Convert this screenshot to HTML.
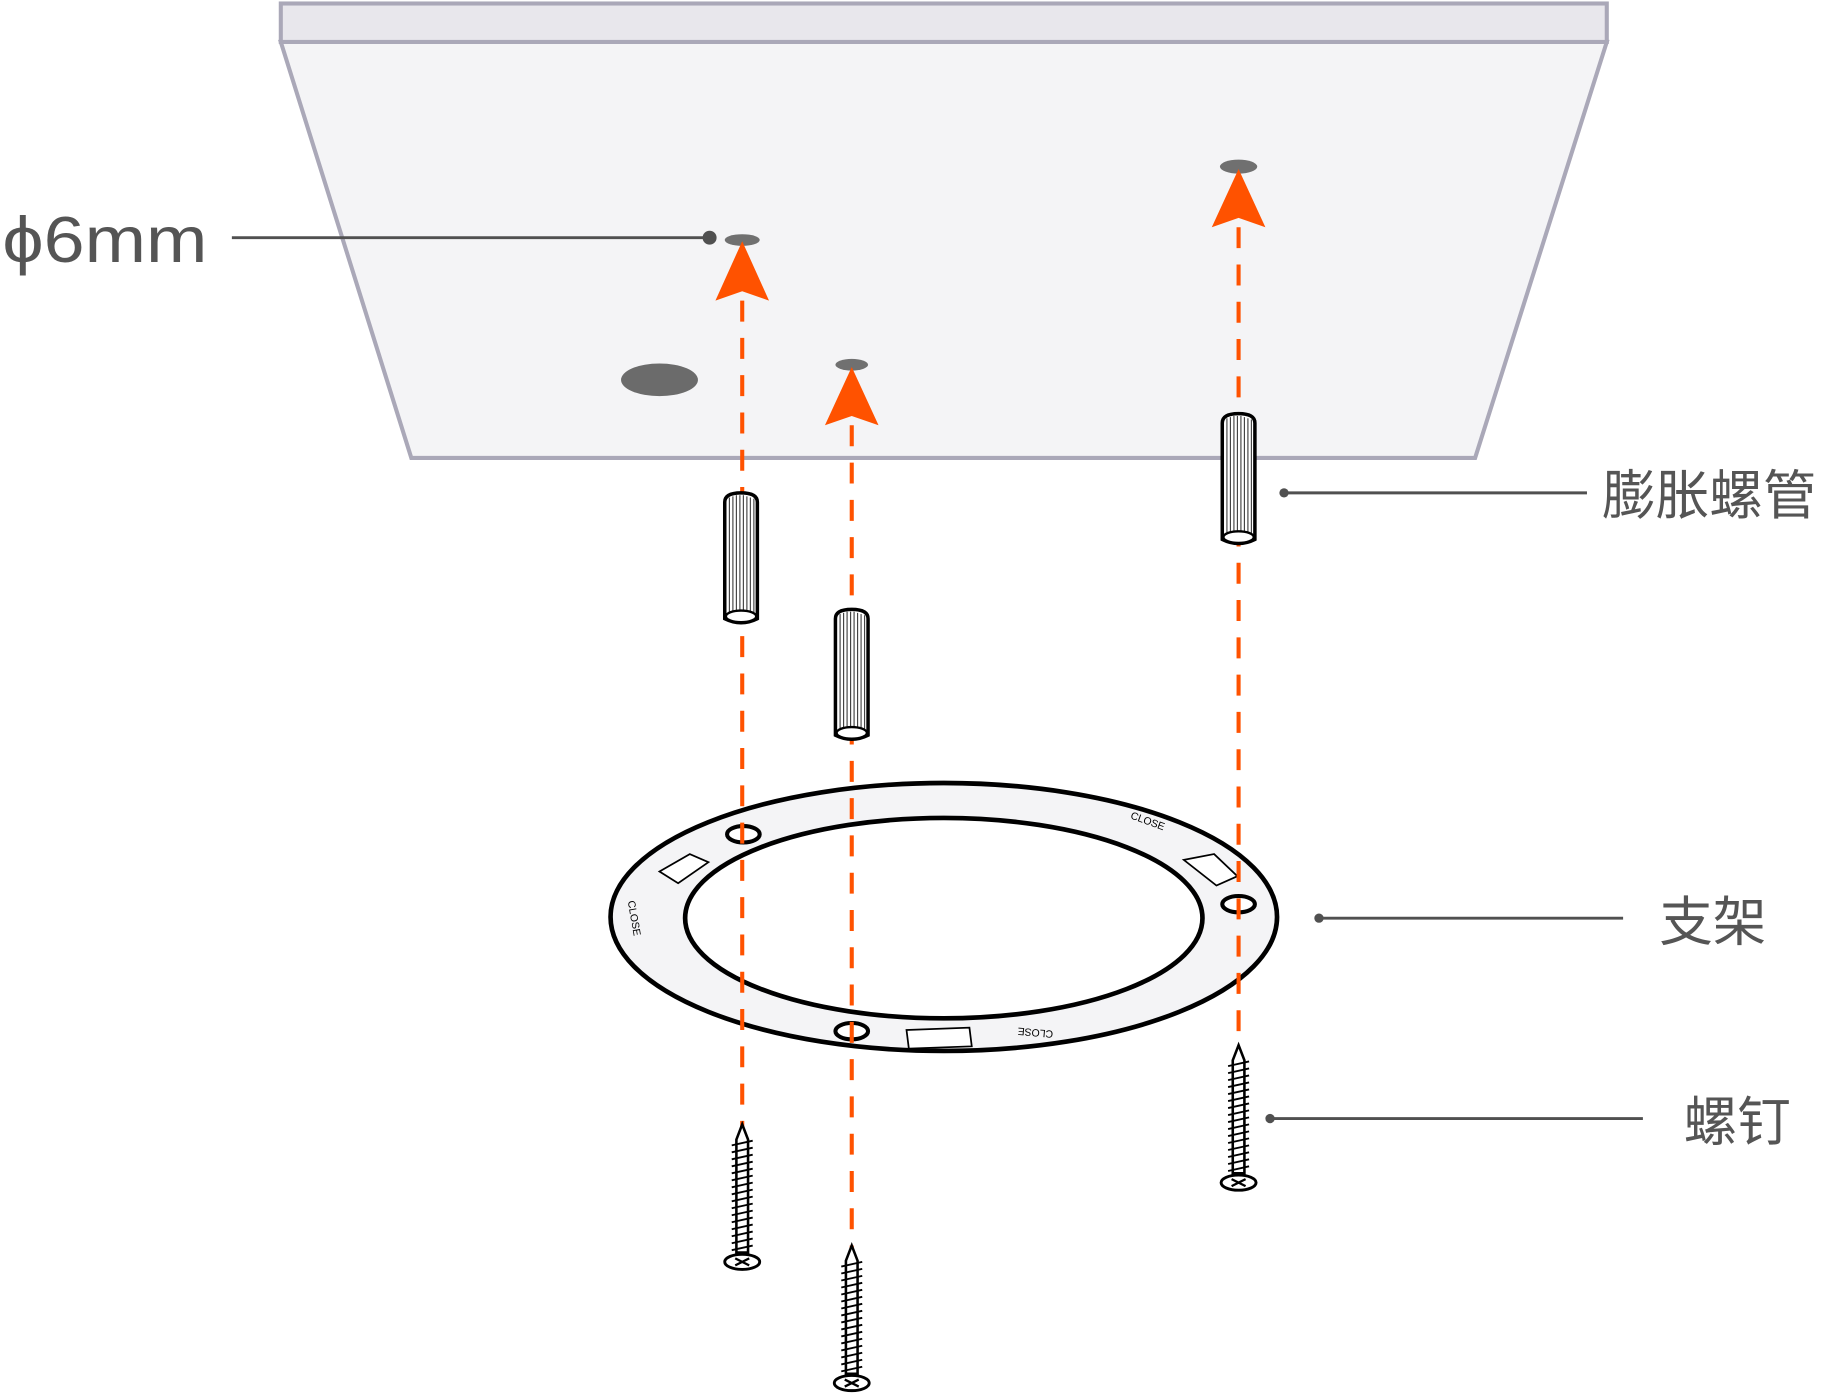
<!DOCTYPE html>
<html><head><meta charset="utf-8"><style>
html,body{margin:0;padding:0;background:#fff;}
svg{display:block}
text{font-family:"Liberation Sans","Noto Sans CJK SC",sans-serif;fill:#555}
</style></head><body>
<svg width="1827" height="1394" viewBox="0 0 1568 1196.4" preserveAspectRatio="none" xmlns="http://www.w3.org/2000/svg">
<defs>
<g id="screw">
  <path d="M-5,-105 L0,-118 L5,-105 L5,-8 L-5,-8 Z" fill="#fff" stroke="#000" stroke-width="2.2"/>
  <g stroke="#000" stroke-width="1.6">
    <line x1="-9" y1="-100" x2="9" y2="-104"/><line x1="-9" y1="-94" x2="9" y2="-98"/>
    <line x1="-9" y1="-88" x2="9" y2="-92"/><line x1="-9" y1="-82" x2="9" y2="-86"/>
    <line x1="-9" y1="-76" x2="9" y2="-80"/><line x1="-9" y1="-70" x2="9" y2="-74"/>
    <line x1="-9" y1="-64" x2="9" y2="-68"/><line x1="-9" y1="-58" x2="9" y2="-62"/>
    <line x1="-9" y1="-52" x2="9" y2="-56"/><line x1="-9" y1="-46" x2="9" y2="-50"/>
    <line x1="-9" y1="-40" x2="9" y2="-44"/><line x1="-9" y1="-34" x2="9" y2="-38"/>
    <line x1="-9" y1="-28" x2="9" y2="-32"/><line x1="-9" y1="-22" x2="9" y2="-26"/>
    <line x1="-9" y1="-16" x2="9" y2="-20"/><line x1="-9" y1="-10" x2="9" y2="-14"/>
  </g>
  <ellipse cx="0" cy="0" rx="15" ry="6.5" fill="#fff" stroke="#000" stroke-width="2.5"/>
  <path d="M-6,-3 L6,3 M-6,3 L6,-3" stroke="#000" stroke-width="2"/>
</g>
<g id="anchor">
  <path d="M-14,-100 Q-14,-108 0,-108 Q14,-108 14,-100 L14,0 Q0,7 -14,0 Z" fill="#fff" stroke="#000" stroke-width="3"/>
  <g stroke="#444" stroke-width="1">
    <line x1="-10" y1="-104" x2="-10" y2="-3"/><line x1="-7" y1="-105" x2="-7" y2="-2"/>
    <line x1="-4" y1="-106" x2="-4" y2="-2"/><line x1="-1" y1="-106" x2="-1" y2="-2"/>
    <line x1="2" y1="-106" x2="2" y2="-2"/><line x1="5" y1="-105" x2="5" y2="-2"/>
    <line x1="8" y1="-104" x2="8" y2="-2"/><line x1="11" y1="-103" x2="11" y2="-3"/>
  </g>
  <ellipse cx="0" cy="-2" rx="13" ry="5" fill="#fff" stroke="#000" stroke-width="2"/>
</g>
</defs>

<path d="M241,36 L1379,36 L1266,393 L353,393 Z" fill="#f4f4f6" stroke="#aaa8b8" stroke-width="3.5"/>
<rect x="241" y="3" width="1138" height="33" fill="#e8e7ec" stroke="#aaa8b8" stroke-width="3.5"/>
<ellipse cx="637" cy="206" rx="15" ry="5" fill="#707070"/>
<ellipse cx="1063" cy="143" rx="16" ry="6" fill="#707070"/>
<ellipse cx="731" cy="313" rx="14" ry="5" fill="#707070"/>
<ellipse cx="566" cy="326" rx="33" ry="14" fill="#6b6b6b"/>

<path fill-rule="evenodd" d="M524,787 a286,115 0 1,0 572,0 a286,115 0 1,0 -572,0 Z M588,788 a222,86 0 1,0 444,0 a222,86 0 1,0 -444,0 Z" fill="#f4f4f6" stroke="#000" stroke-width="4"/>
<ellipse cx="638" cy="716" rx="14" ry="7" fill="#fff" stroke="#000" stroke-width="3.5"/>
<ellipse cx="1063" cy="776" rx="14" ry="7" fill="#fff" stroke="#000" stroke-width="3.5"/>
<ellipse cx="731" cy="885" rx="14" ry="7" fill="#fff" stroke="#000" stroke-width="3.5"/>
<path d="M778,884 L832,882 L834,898 L780,900 Z" fill="#fff" stroke="#000" stroke-width="1.5"/>
<path d="M566,748 L592,733 L608,740 L582,758 Z" fill="#fff" stroke="#000" stroke-width="1.5"/>
<path d="M1016,738 L1042,733 L1062,752 L1044,760 Z" fill="#fff" stroke="#000" stroke-width="1.5"/>
<text x="540" y="788" font-size="9" style="fill:#000" transform="rotate(80 548 780)">CLOSE</text>
<text x="968" y="708" font-size="9" style="fill:#000" transform="rotate(20 985 710)">CLOSE</text>
<text x="866" y="885" font-size="9" style="fill:#000" transform="rotate(185 885 884)">CLOSE</text>

<g stroke="#ff5200" stroke-width="3.5" stroke-dasharray="18,14">
  <line x1="637" y1="258" x2="637" y2="968"/>
  <line x1="731" y1="365" x2="731" y2="1072"/>
  <line x1="1063" y1="195" x2="1063" y2="898"/>
</g>
<g fill="#ff5200">
  <path d="M637,207 L614,258 L637,250 L660,258 Z"/>
  <path d="M731,315 L708,365 L731,357 L754,365 Z"/>
  <path d="M1063,145 L1040,195 L1063,187 L1086,195 Z"/>
</g>

<use href="#anchor" x="636" y="531"/>
<use href="#anchor" x="731" y="631"/>
<use href="#anchor" x="1063" y="463"/>
<use href="#screw" x="637" y="1083"/>
<use href="#screw" x="731" y="1187"/>
<use href="#screw" x="1063" y="1015"/>

<g stroke="#505050" stroke-width="2.5">
  <line x1="199" y1="204" x2="609" y2="204"/>
  <line x1="1102" y1="423" x2="1362" y2="423"/>
  <line x1="1132" y1="788" x2="1393" y2="788"/>
  <line x1="1090" y1="960" x2="1410" y2="960"/>
</g>
<g fill="#505050">
  <circle cx="609" cy="204" r="6"/>
  <circle cx="1102" cy="423" r="4"/>
  <circle cx="1132" cy="788" r="4"/>
  <circle cx="1090" cy="960" r="4"/>
</g>
<text x="2" y="225" font-size="56" textLength="176" lengthAdjust="spacingAndGlyphs">ϕ6mm</text>
<text x="1375" y="441" font-size="46">膨胀螺管</text>
<text x="1424" y="807" font-size="46">支架</text>
<text x="1445" y="979" font-size="46">螺钉</text>
</svg>
</body></html>
